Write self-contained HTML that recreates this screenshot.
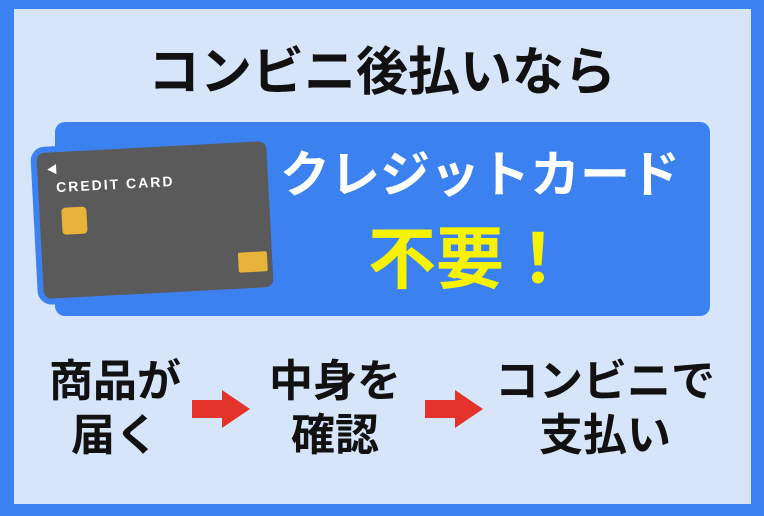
<!DOCTYPE html>
<html><head><meta charset="utf-8"><style>
body{margin:0;width:764px;height:516px;overflow:hidden;background:#3b82f0;font-family:"Liberation Sans","Noto Sans CJK JP",sans-serif;}
.in{position:absolute;left:14px;top:9px;width:737px;height:495px;background:#d7e5fb;}
.t{position:absolute;white-space:nowrap;font-weight:700;color:#111;}
.panel{position:absolute;left:55px;top:122px;width:655px;height:194px;background:#3b82f0;border-radius:10px;}
.card{position:absolute;left:40px;top:147px;width:230px;height:146px;background:#5a5a5a;border-radius:8px;transform:rotate(-3deg);box-shadow:0 0 0 6px #3b82f0;}
</style></head><body>
<div class="in"></div>
<div class="t" style="left:0;width:764px;text-align:center;top:38px;font-size:52px;line-height:70px;">コンビニ後払いなら</div>
<div class="panel"></div>
<div class="card">
  <div style="position:absolute;left:10px;top:12px;width:0;height:0;border-top:5px solid transparent;border-bottom:5px solid transparent;border-right:9px solid #fff;"></div>
  <div style="position:absolute;left:18px;top:27px;color:#fff;font-size:14px;font-weight:bold;letter-spacing:2px;">CREDIT CARD</div>
  <div style="position:absolute;left:22px;top:56px;width:25px;height:27px;background:#e8b33a;border-radius:4px;"></div>
  <div style="position:absolute;left:196px;top:110px;width:29px;height:20px;background:#e8b33a;border-radius:2px;"></div>
</div>
<div class="t" style="left:280px;width:400px;text-align:center;top:145px;font-size:50px;line-height:60px;color:#fff;">クレジットカード</div>
<div class="t" style="left:280px;width:380px;text-align:center;top:220px;font-size:68px;line-height:80px;color:#f7f200;">不要！</div>
<div class="t" style="left:40px;width:150px;text-align:center;top:355px;font-size:44px;line-height:54px;">商品が<br>届く</div>
<div class="t" style="left:260px;width:150px;text-align:center;top:355px;font-size:44px;line-height:54px;">中身を<br>確認</div>
<div class="t" style="left:490px;width:230px;text-align:center;top:355px;font-size:44px;line-height:54px;">コンビニで<br>支払い</div>
<svg style="position:absolute;left:0;top:0" width="764" height="516">
<polygon points="192,400 222,400 222,390 250,409 222,428 222,418 192,418" fill="#e3332a"/>
<polygon points="425,400 455,400 455,390 483,409 455,428 455,418 425,418" fill="#e3332a"/>
</svg>
</body></html>
